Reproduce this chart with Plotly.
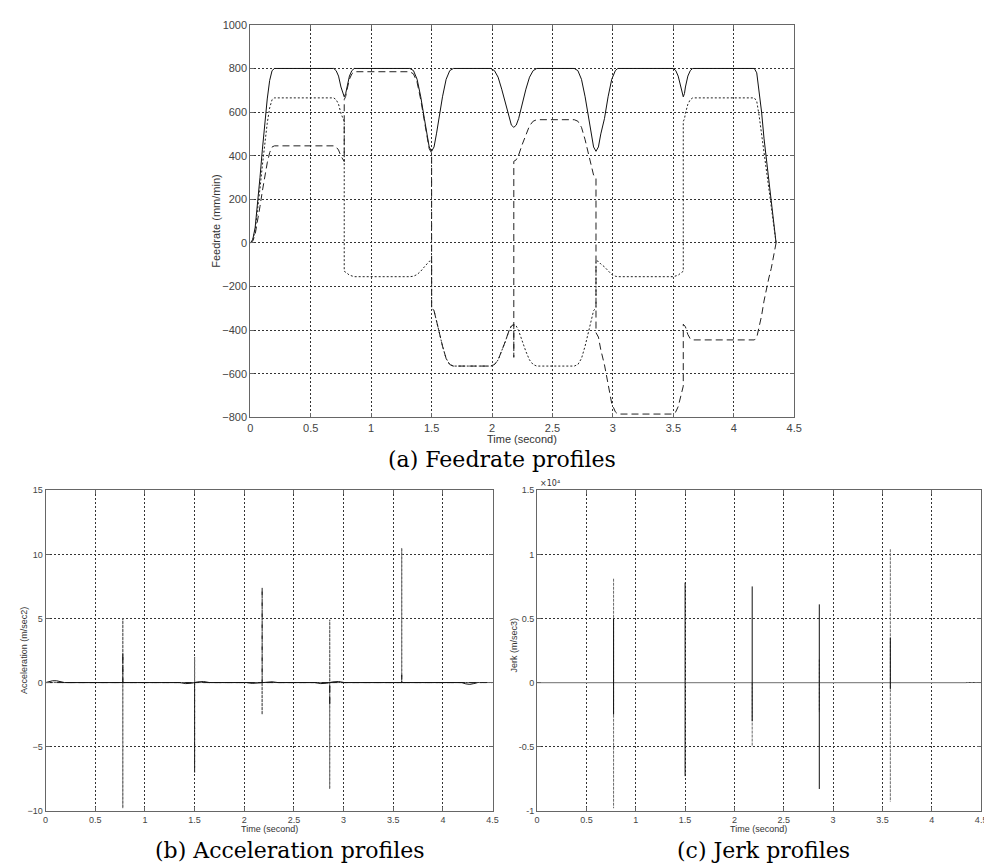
import plotly.graph_objects as go

# ---------------- Feedrate data (mm/min) ----------------
feed_t = [0, 0.02, 0.04, 0.06, 0.08, 0.10, 0.12, 0.14, 0.16, 0.18, 0.20,
          0.69, 0.71, 0.73, 0.75, 0.765, 0.777, 0.789, 0.80, 0.82, 0.84, 0.86,
          1.32, 1.35, 1.38, 1.41, 1.44, 1.46, 1.48, 1.50, 1.52, 1.54, 1.56, 1.59, 1.62, 1.65, 1.68,
          1.99, 2.02, 2.05, 2.08, 2.11, 2.14, 2.16, 2.18, 2.20, 2.22, 2.25, 2.28, 2.31, 2.34, 2.37,
          2.68, 2.71, 2.74, 2.77, 2.80, 2.82, 2.84, 2.86, 2.88, 2.90, 2.93, 2.96, 2.99, 3.02, 3.04,
          3.50, 3.52, 3.54, 3.56, 3.572, 3.582, 3.592, 3.60, 3.62, 3.64, 3.66,
          4.17, 4.19, 4.21, 4.23, 4.25, 4.27, 4.29, 4.31, 4.33, 4.345, 4.35]
feed_v = [0, 15, 70, 170, 300, 430, 550, 660, 745, 790, 800,
          800, 790, 765, 715, 685, 670, 685, 715, 765, 790, 800,
          800, 790, 750, 670, 570, 500, 440, 420, 440, 500, 570, 670, 750, 790, 800,
          800, 790, 760, 705, 640, 570, 540, 530, 540, 570, 640, 705, 760, 790, 800,
          800, 790, 750, 670, 570, 500, 440, 420, 440, 500, 570, 670, 750, 790, 800,
          800, 790, 765, 715, 685, 670, 685, 715, 765, 790, 800,
          800, 780, 700, 600, 480, 380, 290, 210, 110, 30, 0]

feedx_t = [0, 0.02, 0.04, 0.06, 0.08, 0.10, 0.12, 0.14, 0.16, 0.18, 0.20,
           0.69, 0.71, 0.73, 0.75, 0.765, 0.777, 0.777, 0.789, 0.80, 0.82, 0.84, 0.86,
           1.32, 1.35, 1.38, 1.41, 1.44, 1.46, 1.48, 1.50, 1.50, 1.52, 1.54, 1.56, 1.59, 1.62, 1.65, 1.68,
           1.99, 2.02, 2.05, 2.08, 2.11, 2.14, 2.16, 2.18, 2.20, 2.22, 2.25, 2.28, 2.31, 2.34, 2.37,
           2.68, 2.71, 2.74, 2.77, 2.80, 2.82, 2.84, 2.86, 2.86, 2.88, 2.90, 2.93, 2.96, 2.99, 3.02, 3.04,
           3.50, 3.52, 3.54, 3.56, 3.572, 3.582, 3.582, 3.592, 3.60, 3.62, 3.64, 3.66,
           4.17, 4.19, 4.21, 4.23, 4.25, 4.27, 4.29, 4.31, 4.33, 4.345, 4.35]
feedx_v = [0, 12, 58, 141, 249, 357, 457, 549, 619, 657, 665,
           665, 657, 636, 594, 569, 557, -130, -133, -139, -148, -153, -155,
           -155, -153, -145, -130, -110, -97, -85, -81, -297, -311, -353, -403, -473, -530, -558, -565,
           -565, -558, -537, -498, -452, -403, -381, -374, -381, -403, -452, -498, -537, -558, -565,
           -565, -558, -530, -473, -403, -353, -311, -297, -81, -85, -97, -110, -130, -145, -153, -155,
           -155, -153, -148, -139, -133, -130, 557, 569, 594, 636, 657, 665,
           665, 649, 582, 499, 399, 316, 241, 175, 91, 25, 0]

feedy_t = [0, 0.02, 0.04, 0.06, 0.08, 0.10, 0.12, 0.14, 0.16, 0.18, 0.20,
           0.69, 0.71, 0.73, 0.75, 0.765, 0.777, 0.777, 0.789, 0.80, 0.82, 0.84, 0.86,
           1.32, 1.35, 1.38, 1.41, 1.44, 1.46, 1.48, 1.50, 1.50, 1.52, 1.54, 1.56, 1.59, 1.62, 1.65, 1.68,
           1.99, 2.02, 2.05, 2.08, 2.11, 2.14, 2.16, 2.18, 2.18, 2.18, 2.20, 2.22, 2.25, 2.28, 2.31, 2.34, 2.37,
           2.68, 2.71, 2.74, 2.77, 2.80, 2.82, 2.84, 2.86, 2.86, 2.88, 2.90, 2.93, 2.96, 2.99, 3.02, 3.04,
           3.50, 3.52, 3.54, 3.56, 3.572, 3.582, 3.582, 3.60, 3.62, 3.64, 3.66,
           4.17, 4.19, 4.21, 4.23, 4.25, 4.27, 4.29, 4.31, 4.33, 4.345, 4.35]
feedy_v = [0, 8, 39, 95, 167, 239, 306, 367, 414, 440, 445,
           445, 440, 426, 398, 381, 373, 657, 672, 702, 751, 775, 785,
           785, 775, 736, 657, 559, 491, 432, 412, -297, -311, -353, -403, -473, -530, -558, -565,
           -565, -558, -537, -498, -452, -403, -381, -374, -525, 374, 381, 403, 452, 498, 537, 558, 565,
           565, 558, 530, 473, 403, 353, 311, 297, -412, -432, -491, -559, -657, -736, -775, -785,
           -785, -775, -751, -702, -672, -657, -373, -385, -420, -440, -445,
           -445, -434, -389, -334, -267, -211, -161, -117, -61, -17, 0]

# ---------------- Acceleration data (m/sec2) ----------------
acc_t = [0, 0.03, 0.07, 0.11, 0.15, 0.19, 1.35, 1.41, 1.47, 1.53, 1.59, 1.65,
         2.02, 2.08, 2.14, 2.22, 2.28, 2.34, 2.71, 2.77, 2.83, 2.89, 2.95, 3.01,
         4.19, 4.23, 4.27, 4.31, 4.35]
acc_v = [0, 0.08, 0.14, 0.14, 0.08, 0, 0, -0.08, -0.05, 0.05, 0.08, 0,
         0, -0.06, -0.03, 0.03, 0.06, 0, 0, -0.08, -0.05, 0.05, 0.08, 0,
         0, -0.1, -0.14, -0.08, 0]
accx_t = [0, 0.777, 0.777, 0.777, 0.777, 1.50, 1.50, 1.50, 2.18, 2.18, 2.18,
          2.86, 2.86, 2.86, 2.86, 3.585, 3.585, 3.585, 4.5]
accx_v = [0, 0, 5.0, -9.8, 0, 0, 2.0, 0, 0, -2.5, 0,
          0, 4.9, -8.3, 0, 0, 10.5, 0, 0]
accy_t = [0, 0.777, 0.777, 0.777, 1.50, 1.50, 1.50, 2.18, 2.18, 2.18,
          2.86, 2.86, 2.86, 3.585, 3.585, 3.585, 4.5]
accy_v = [0, 0, 2.3, 0, 0, -7.0, 0, 0, 7.4, 0,
          0, -1.8, 0, 0, 0.6, 0, 0]

# ---------------- Jerk data (m/sec3); None separates the spikes ----------------
jerk_t = [0, 4.35]
jerk_v = [0, 0]
jerkx_t = [0.775, 0.775, None, 2.18, 2.18, None, 2.86, 2.86, None, 3.58, 3.58, None, 4.35, 4.5]
jerkx_v = [8100, -9800, None, 0, -5000, None, 1800, -2300, None, 10400, -9300, None, 0, 0]
jerky_t = [0.775, 0.775, None, 1.50, 1.50, None, 2.18, 2.18, None, 2.86, 2.86, None, 3.58, 3.58]
jerky_v = [5000, -2500, None, 7800, -7300, None, 7500, -3000, None, 6100, -8300, None, 3500, -500]

x_ticks = [0, 0.5, 1, 1.5, 2, 2.5, 3, 3.5, 4, 4.5]
jerk_tickvals = [-10000, -5000, 0, 5000, 10000, 15000]
jerk_ticktext = ["-1", "-0.5", "0", "0.5", "1", "1.5"]

captions = ["(a) Feedrate profiles", "(b) Acceleration profiles", "(c) Jerk profiles"]

SOLID = dict(color="#111111", width=1)
DOT = dict(color="#222222", width=1, dash="2px,2px")
DASH = dict(color="#222222", width=1, dash="7px,4px")

fig = go.Figure()
# feedrate
fig.add_trace(go.Scatter(x=feed_t, y=feed_v, mode="lines", line=SOLID, xaxis="x", yaxis="y"))
fig.add_trace(go.Scatter(x=feedx_t, y=feedx_v, mode="lines", line=DOT, xaxis="x", yaxis="y"))
fig.add_trace(go.Scatter(x=feedy_t, y=feedy_v, mode="lines", line=DASH, xaxis="x", yaxis="y"))
# acceleration
fig.add_trace(go.Scatter(x=accx_t, y=accx_v, mode="lines", line=dict(color="#6a6a6a", width=1, dash="3px,1px"), xaxis="x2", yaxis="y2"))
fig.add_trace(go.Scatter(x=accy_t, y=accy_v, mode="lines", line=DASH, xaxis="x2", yaxis="y2"))
fig.add_trace(go.Scatter(x=acc_t, y=acc_v, mode="lines", line=SOLID, xaxis="x2", yaxis="y2"))
# jerk
fig.add_trace(go.Scatter(x=jerk_t, y=jerk_v, mode="lines", line=dict(color="#8a8a8a", width=1.3), xaxis="x3", yaxis="y3"))
fig.add_trace(go.Scatter(x=jerkx_t, y=jerkx_v, mode="lines", connectgaps=False,
                         line=dict(color="#6a6a6a", width=1, dash="3px,1px"), xaxis="x3", yaxis="y3"))
fig.add_trace(go.Scatter(x=jerky_t, y=jerky_v, mode="lines", connectgaps=False,
                         line=dict(color="#111111", width=1), xaxis="x3", yaxis="y3"))

W, H = 992, 863
def px(x):
    return x / W
def py(y):
    return 1 - y / H

def axis_common(size):
    return dict(showline=True, linecolor="#666666", linewidth=1, mirror="ticks",
                ticks="inside", ticklen=4, tickcolor="#666666",
                showgrid=True, gridcolor="#333333", gridwidth=1, griddash="2px,2px",
                zeroline=False, tickfont=dict(family="Liberation Sans", size=size, color="#444444"))

fig.update_layout(
    width=W, height=H, margin=dict(l=0, r=0, t=0, b=0),
    paper_bgcolor="white", plot_bgcolor="white", showlegend=False,
    xaxis=dict(domain=[px(242), px(792)], range=[0, 4.5], tickvals=x_ticks, anchor="y", **axis_common(11)),
    yaxis=dict(domain=[py(409), py(11)], range=[-800, 1000], dtick=200, anchor="x", **axis_common(11)),
    xaxis2=dict(domain=[px(35), px(487)], range=[0, 4.5], tickvals=x_ticks, anchor="y2", **axis_common(9)),
    yaxis2=dict(domain=[py(808), py(483)], range=[-10, 15], dtick=5, anchor="x2", **axis_common(9)),
    xaxis3=dict(domain=[px(532), px(981)], range=[0, 4.5], tickvals=x_ticks, anchor="y3", **axis_common(9)),
    yaxis3=dict(domain=[py(808), py(483)], range=[-10000, 15000], tickvals=jerk_tickvals,
                ticktext=jerk_ticktext, anchor="x3", **axis_common(9)),
)

ann = []
def label(text, x, y, size, angle=0, family="Liberation Sans", color="#333333", xanchor="center"):
    ann.append(dict(text=text, x=px(x), y=py(y), xref="paper", yref="paper", showarrow=False,
                    textangle=angle, xanchor=xanchor, yanchor="middle",
                    font=dict(family=family, size=size, color=color)))

label("Time (second)", 517, 431, 11)
label("Feedrate (mm/min)", 207, 210, 11, angle=-90)
label("Time (second)", 261, 826, 9)
label("Acceleration (m/sec2)", 13, 645, 9, angle=-90)
label("Time (second)", 756, 826, 9)
label("Jerk (m/sec3)", 509, 640, 9, angle=-90)
label("\u00d710\u2074", 533, 476, 8, family="DejaVu Sans", xanchor="left")
label(captions[0], 497, 452, 22, family="DejaVu Serif", color="#000000")
label(captions[1], 282, 848, 22, family="DejaVu Serif", color="#000000")
label(captions[2], 761, 848, 22, family="DejaVu Serif", color="#000000")
fig.update_layout(annotations=ann)

fig.write_html("out.html")
